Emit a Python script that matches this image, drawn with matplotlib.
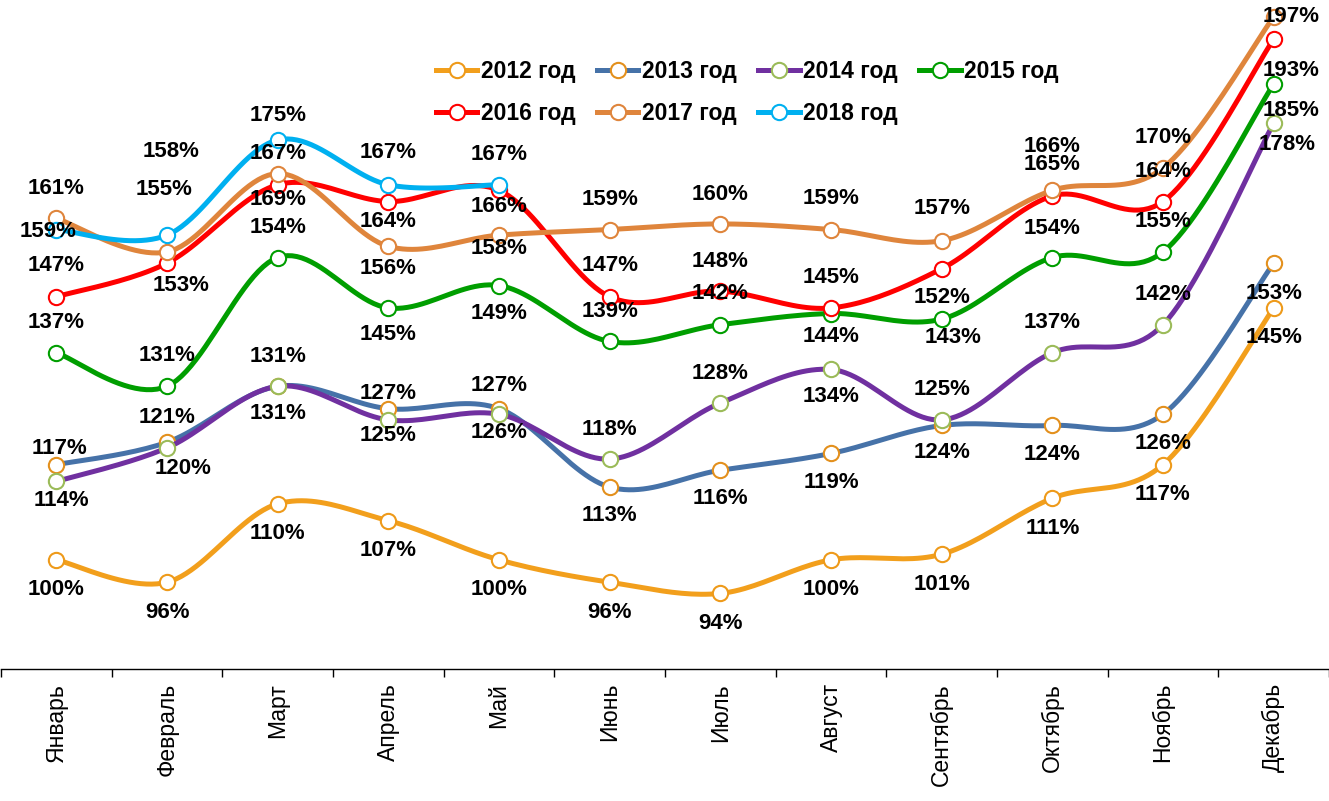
import matplotlib
matplotlib.use("Agg")
import matplotlib.pyplot as plt
from matplotlib.lines import Line2D
import numpy as np

plt.rcParams['font.family'] = ['Liberation Sans', 'DejaVu Sans']

# месяцы
months = ['Январь', 'Февраль', 'Март', 'Апрель', 'Май', 'Июнь', 'Июль',
          'Август', 'Сентябрь', 'Октябрь', 'Ноябрь', 'Декабрь']

# значения по годам, %
y2012 = [100, 96, 110, 107, 100, 96, 94, 100, 101, 111, 117, 145]
y2013 = [117, 121, 131, 127, 127, 113, 116, 119, 124, 124, 126, 153]
y2014 = [114, 120, 131, 125, 126, 118, 128, 134, 125, 137, 142, 178]
y2015 = [137, 131, 154, 145, 149, 139, 142, 144, 143, 154, 155, 185]
y2016 = [147, 153, 167, 164, 166, 147, 148, 145, 152, 165, 164, 193]
y2017 = [161, 155, 169, 156, 158, 159, 160, 159, 157, 166, 170, 197]
y2018 = [159, 158, 175, 167, 167]

names = ['2012 год', '2013 год', '2014 год', '2015 год', '2016 год', '2017 год', '2018 год']
series = [y2012, y2013, y2014, y2015, y2016, y2017, y2018]
line_colors = ['#F29F1C', '#4672A8', '#7030A0', '#009E00', '#FF0000', '#DF853C', '#00B0F0']
marker_colors = ['#EE9A1A', '#E3901D', '#9BBB59', '#009E00', '#FF0000', '#DF853C', '#00B0F0']

# сдвиг подписей (пиксели, + вверх)
label_dy = [
    [-30] * 12,
    [16, 25, -27, 15, 23, -28, -28, -29, -27, -29, -29, -30],
    [-19, -21, 30, -16, -18, 30, 30, -27, 30, 30, 30, -21],
    [30, 31, 30, -27, -28, 30, 31, -23, -18, 29, 30, -27],
    [31, -22, 31, -20, -16, 31, 30, 30, -29, 31, 30, -31],
    [30, 62, -26, -22, -13, 30, 29, 31, 32, 44, 30, 0],
    [-2, 84, 24, 32, 30],
]
label_dx = {(1, 0): 3, (2, 0): 5, (2, 1): 16, (2, 11): 13, (3, 8): 11, (3, 11): 17,
            (4, 1): 14, (4, 11): 17, (5, 1): -3, (5, 11): 17, (6, 0): -8, (6, 1): 4}


def smooth(x, y, n=24):
    pts = np.column_stack([x, y]).astype(float)
    out = []
    for i in range(len(pts) - 1):
        p0 = pts[i - 1] if i > 0 else pts[i]
        p1, p2 = pts[i], pts[i + 1]
        p3 = pts[i + 2] if i + 2 < len(pts) else pts[i + 1]
        c1 = p1 + (p2 - p0) / 6
        c2 = p2 - (p3 - p1) / 6
        t = np.linspace(0, 1, n)[:, None]
        seg = (1 - t) ** 3 * p1 + 3 * (1 - t) ** 2 * t * c1 + 3 * (1 - t) * t ** 2 * c2 + t ** 3 * p2
        out.append(seg if i == 0 else seg[1:])
    return np.vstack(out)


fig = plt.figure(figsize=(13.29, 8.01), dpi=100)
ax = fig.add_axes([1 / 1329, (801 - 669) / 801, 1328 / 1329, 669 / 801])

handles = []
for k, (vals, name) in enumerate(zip(series, names)):
    x = np.arange(len(vals))
    s = smooth(x, vals)
    ax.plot(s[:, 0], s[:, 1], color=line_colors[k], lw=3.6, zorder=2 + k,
            solid_capstyle='round')
    ax.plot(x, vals, 'o', ms=11, mfc='white', mec=marker_colors[k], mew=1.5,
            zorder=2 + k)
    handles.append(Line2D([], [], color=line_colors[k], lw=3.6, marker='o', ms=11,
                          mfc='white', mec=marker_colors[k], mew=1.5))
    for i, v in enumerate(vals):
        ax.annotate(f'{v}%', (i, v), xytext=(label_dx.get((k, i), 0), label_dy[k][i]),
                    textcoords='offset pixels', ha='center', va='center',
                    fontsize=16, fontweight='bold', color='black', zorder=20)

ax.set_xlim(-0.5, 11.5)
ax.set_ylim(80.5, 200)
ax.set_yticks([])
ax.set_xticks(range(12))
ax.set_xticklabels(months, rotation=90, fontsize=16.5, va='top')
ax.set_xticks(np.arange(-0.5, 12, 1), minor=True)
ax.tick_params(axis='x', which='major', length=0, pad=10)
ax.tick_params(axis='x', which='minor', length=6, width=1, color='black')
for sp in ['top', 'right', 'left']:
    ax.spines[sp].set_visible(False)
ax.spines['bottom'].set_linewidth(1)

order = [0, 4, 1, 5, 2, 6, 3]
fig.legend([handles[i] for i in order], [names[i] for i in order], ncol=4,
           loc='upper left', bbox_to_anchor=(436 / 1329, 1 - 60 / 801),
           frameon=False, borderpad=0, borderaxespad=0, handlelength=1.8,
           handletextpad=0.15, columnspacing=0.95, labelspacing=0.82,
           prop={'size': 16.5, 'weight': 'bold'})

fig.savefig('out.png', dpi=100)
